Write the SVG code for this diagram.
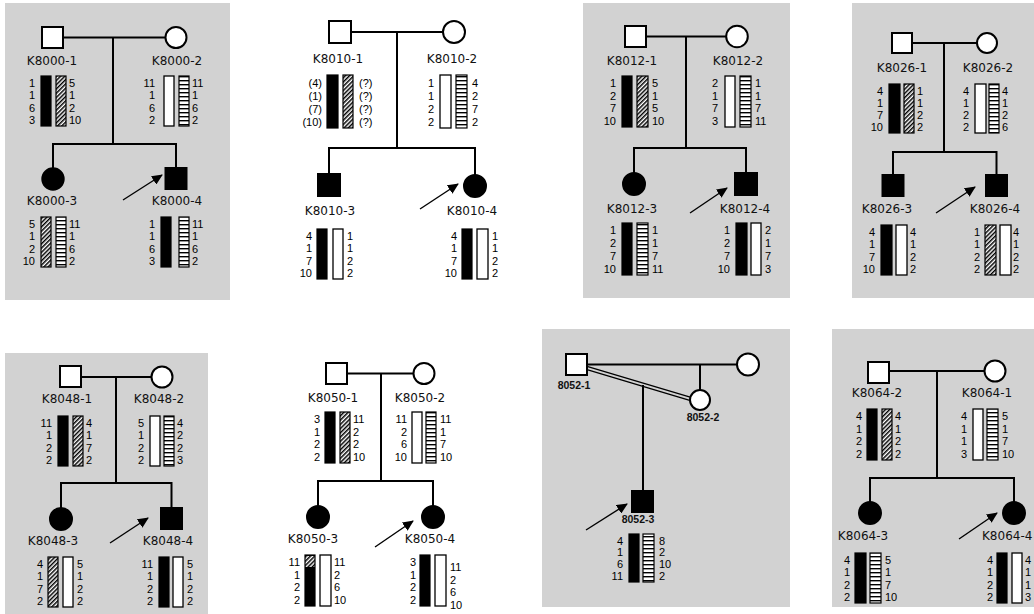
<svg xmlns="http://www.w3.org/2000/svg" width="1034" height="614" viewBox="0 0 1034 614">
<style>
.bg{fill:#d2d2d2}
.sym{stroke:#000;stroke-width:2}
.un{fill:#fff}
.af{fill:#000}
.ln{fill:none;stroke:#000;stroke-width:2}
.ar{fill:none;stroke:#000;stroke-width:1.4;marker-end:url(#ah)}
.lb{font-family:"DejaVu Sans",sans-serif;font-size:12px;fill:#111;text-anchor:middle}
.lbs{font-family:"Liberation Sans",sans-serif;font-size:10.5px;font-weight:bold;fill:#111;text-anchor:middle}
.nl{font-family:"Liberation Sans",sans-serif;font-size:11px;fill:#000;text-anchor:end}
.nr{font-family:"Liberation Sans",sans-serif;font-size:11px;fill:#000;text-anchor:start}
.bk{fill:#000;stroke:#000;stroke-width:1.2}
.wh{fill:#fff;stroke:#000;stroke-width:1.3}
.ht{fill:url(#hatch);stroke:#000;stroke-width:1.2}
.st{fill:url(#stripe);stroke:#000;stroke-width:1.2}
</style>
<defs>
<pattern id="hatch" patternUnits="userSpaceOnUse" width="3" height="3" patternTransform="rotate(45)"><rect width="3" height="3" fill="#fff"/><rect width="1.5" height="3" fill="#000"/></pattern>
<pattern id="stripe" patternUnits="userSpaceOnUse" width="4" height="4"><rect width="4" height="4" fill="#fff"/><rect width="4" height="1.4" fill="#000"/></pattern>
<marker id="ah" markerUnits="userSpaceOnUse" markerWidth="12" markerHeight="10" refX="10" refY="5" orient="auto"><path d="M0,0 L11,5 L0,10 Z" fill="#000"/></marker>
</defs>

<g id="panels">
<rect class="bg" x="5" y="3" width="225" height="297"/>
<rect class="bg" x="583" y="3" width="207" height="295"/>
<rect class="bg" x="852" y="3" width="182" height="295"/>
<rect class="bg" x="5" y="353" width="203" height="261"/>
<rect class="bg" x="542" y="329" width="248" height="278"/>
<rect class="bg" x="832" y="329" width="202" height="278"/>
</g>

<g id="connectors">
<path class="ln" d="M63 37.5 H165.5 M113 37.5 V144 M53 168 V144 H176 V168"/>
<path class="ar" d="M123 200 L162 175"/>
<path class="ln" d="M351 32 H443 M397 32 V148 M329 174 V148 H475 V175"/>
<path class="ar" d="M420 209 L458 184"/>
<path class="ln" d="M646 36.5 H726 M686 36.5 V148 M634 173 V148 H746 V173"/>
<path class="ar" d="M690 213 L727 188"/>
<path class="ln" d="M912 43 H977 M944 43 V152 M893 175 V152 H996.5 V175"/>
<path class="ar" d="M936 213 L975 187"/>
<path class="ln" d="M81 377 H151.5 M116 377 V483 M61 508 V483 H171.5 V508"/>
<path class="ar" d="M110 543 L148 518"/>
<path class="ln" d="M347 373.5 H413.5 M381 373.5 V481 M318 506 V481 H433 V506"/>
<path class="ar" d="M375 547 L413 521"/>
<path class="ln" d="M587 364.5 H737 M700 364.5 V390 M643 385 V491"/>
<path fill="none" stroke="#000" stroke-width="1.3" d="M587 366.3 L691 397.3 M587 369.7 L690.5 400.7"/>
<path class="ar" d="M586 530 L627 504"/>
<path class="ln" d="M889 371 H984.5 M937 371 V478 M870 502 V478 H1014 V502"/>
<path class="ar" d="M959 539 L997 513"/>
</g>

<!-- Panel 1 -->
<g id="K8000-1">
<rect class="sym un" x="42" y="27" width="21" height="21"/>
<text class="lb" x="52" y="65">K8000-1</text>
<rect class="bk" x="41" y="76" width="10" height="50"/><rect class="ht" x="56" y="76" width="10" height="50"/>
<text class="nl"><tspan x="35" y="87">1</tspan><tspan x="35" y="99.3">1</tspan><tspan x="35" y="111.5">6</tspan><tspan x="35" y="123.8">3</tspan></text>
<text class="nr"><tspan x="69" y="87">5</tspan><tspan x="69" y="99.3">1</tspan><tspan x="69" y="111.5">2</tspan><tspan x="69" y="123.8">10</tspan></text>
</g>
<g id="K8000-2">
<circle class="sym un" cx="176" cy="37.5" r="10.5"/>
<text class="lb" x="177" y="65">K8000-2</text>
<rect class="wh" x="164" y="76" width="10" height="50"/><rect class="st" x="179" y="76" width="10" height="50"/>
<text class="nl"><tspan x="155" y="87">11</tspan><tspan x="155" y="99.3">1</tspan><tspan x="155" y="111.5">6</tspan><tspan x="155" y="123.8">2</tspan></text>
<text class="nr"><tspan x="192" y="87">11</tspan><tspan x="192" y="99.3">1</tspan><tspan x="192" y="111.5">6</tspan><tspan x="192" y="123.8">2</tspan></text>
</g>
<g id="K8000-3">
<circle class="sym af" cx="53" cy="179" r="10.7"/>
<text class="lb" x="52" y="205">K8000-3</text>
<rect class="ht" x="41" y="217" width="10" height="50"/><rect class="st" x="56" y="217" width="10" height="50"/>
<text class="nl"><tspan x="35" y="228">5</tspan><tspan x="35" y="240.3">1</tspan><tspan x="35" y="252.5">2</tspan><tspan x="35" y="264.8">10</tspan></text>
<text class="nr"><tspan x="69" y="228">11</tspan><tspan x="69" y="240.3">1</tspan><tspan x="69" y="252.5">6</tspan><tspan x="69" y="264.8">2</tspan></text>
</g>
<g id="K8000-4">
<rect class="sym af" x="165.5" y="168" width="21" height="21"/>
<text class="lb" x="177" y="205">K8000-4</text>
<rect class="bk" x="161" y="217" width="10" height="50"/><rect class="st" x="179" y="217" width="10" height="50"/>
<text class="nl"><tspan x="155" y="228">1</tspan><tspan x="155" y="240.3">1</tspan><tspan x="155" y="252.5">6</tspan><tspan x="155" y="264.8">3</tspan></text>
<text class="nr"><tspan x="192" y="228">11</tspan><tspan x="192" y="240.3">1</tspan><tspan x="192" y="252.5">6</tspan><tspan x="192" y="264.8">2</tspan></text>
</g>

<!-- Panel 2 -->
<g id="K8010-1">
<rect class="sym un" x="329" y="21" width="22" height="22"/>
<text class="lb" x="338" y="63">K8010-1</text>
<rect class="bk" x="327" y="75" width="11" height="53"/><rect class="ht" x="343" y="75" width="10" height="53"/>
<text class="nl"><tspan x="322" y="86.7">(4)</tspan><tspan x="322" y="99.7">(1)</tspan><tspan x="322" y="112.7">(7)</tspan><tspan x="322" y="125.7">(10)</tspan></text>
<text class="nr"><tspan x="359" y="86.7">(?)</tspan><tspan x="359" y="99.7">(?)</tspan><tspan x="359" y="112.7">(?)</tspan><tspan x="359" y="125.7">(?)</tspan></text>
</g>
<g id="K8010-2">
<circle class="sym un" cx="454" cy="32" r="11"/>
<text class="lb" x="452" y="63">K8010-2</text>
<rect class="wh" x="440" y="75" width="11" height="53"/><rect class="st" x="456" y="75" width="11" height="53"/>
<text class="nl"><tspan x="434" y="86.7">1</tspan><tspan x="434" y="99.7">1</tspan><tspan x="434" y="112.7">2</tspan><tspan x="434" y="125.7">2</tspan></text>
<text class="nr"><tspan x="472" y="86.7">4</tspan><tspan x="472" y="99.7">2</tspan><tspan x="472" y="112.7">7</tspan><tspan x="472" y="125.7">2</tspan></text>
</g>
<g id="K8010-3">
<rect class="sym af" x="318" y="174" width="22" height="22"/>
<text class="lb" x="330" y="215">K8010-3</text>
<rect class="bk" x="317" y="229" width="10" height="50"/><rect class="wh" x="333" y="229" width="10" height="50"/>
<text class="nl"><tspan x="312" y="240">4</tspan><tspan x="312" y="252.3">1</tspan><tspan x="312" y="264.5">7</tspan><tspan x="312" y="276.8">10</tspan></text>
<text class="nr"><tspan x="347" y="240">1</tspan><tspan x="347" y="252.3">1</tspan><tspan x="347" y="264.5">2</tspan><tspan x="347" y="276.8">2</tspan></text>
</g>
<g id="K8010-4">
<circle class="sym af" cx="475" cy="186" r="11"/>
<text class="lb" x="472" y="215">K8010-4</text>
<rect class="bk" x="462" y="229" width="10" height="50"/><rect class="wh" x="477" y="229" width="11" height="50"/>
<text class="nl"><tspan x="457" y="240">4</tspan><tspan x="457" y="252.3">1</tspan><tspan x="457" y="264.5">7</tspan><tspan x="457" y="276.8">10</tspan></text>
<text class="nr"><tspan x="492" y="240">1</tspan><tspan x="492" y="252.3">1</tspan><tspan x="492" y="264.5">2</tspan><tspan x="492" y="276.8">2</tspan></text>
</g>

<!-- Panel 3 -->
<g id="K8012-1">
<rect class="sym un" x="625" y="26" width="21" height="21"/>
<text class="lb" x="632" y="65">K8012-1</text>
<rect class="bk" x="622" y="76" width="10" height="51"/><rect class="ht" x="637" y="76" width="11" height="51"/>
<text class="nl"><tspan x="616" y="87.2">1</tspan><tspan x="616" y="99.7">2</tspan><tspan x="616" y="112.2">7</tspan><tspan x="616" y="124.7">10</tspan></text>
<text class="nr"><tspan x="652" y="87.2">5</tspan><tspan x="652" y="99.7">1</tspan><tspan x="652" y="112.2">5</tspan><tspan x="652" y="124.7">10</tspan></text>
</g>
<g id="K8012-2">
<circle class="sym un" cx="737" cy="36.5" r="10.8"/>
<text class="lb" x="738" y="65">K8012-2</text>
<rect class="wh" x="725" y="76" width="10" height="51"/><rect class="st" x="740" y="76" width="11" height="51"/>
<text class="nl"><tspan x="718" y="87.2">2</tspan><tspan x="718" y="99.7">1</tspan><tspan x="718" y="112.2">7</tspan><tspan x="718" y="124.7">3</tspan></text>
<text class="nr"><tspan x="755" y="87.2">1</tspan><tspan x="755" y="99.7">1</tspan><tspan x="755" y="112.2">7</tspan><tspan x="755" y="124.7">11</tspan></text>
</g>
<g id="K8012-3">
<circle class="sym af" cx="634" cy="184" r="11"/>
<text class="lb" x="632" y="213">K8012-3</text>
<rect class="bk" x="622" y="223" width="10" height="52"/><rect class="st" x="637" y="223" width="11" height="52"/>
<text class="nl"><tspan x="616" y="234.4">1</tspan><tspan x="616" y="247.2">2</tspan><tspan x="616" y="259.9">7</tspan><tspan x="616" y="272.7">10</tspan></text>
<text class="nr"><tspan x="652" y="234.4">1</tspan><tspan x="652" y="247.2">1</tspan><tspan x="652" y="259.9">7</tspan><tspan x="652" y="272.7">11</tspan></text>
</g>
<g id="K8012-4">
<rect class="sym af" x="735" y="173" width="22" height="22"/>
<text class="lb" x="745" y="213">K8012-4</text>
<rect class="bk" x="736" y="223" width="11" height="52"/><rect class="wh" x="751" y="223" width="10" height="52"/>
<text class="nl"><tspan x="730" y="234.4">1</tspan><tspan x="730" y="247.2">2</tspan><tspan x="730" y="259.9">7</tspan><tspan x="730" y="272.7">10</tspan></text>
<text class="nr"><tspan x="765" y="234.4">2</tspan><tspan x="765" y="247.2">1</tspan><tspan x="765" y="259.9">7</tspan><tspan x="765" y="272.7">3</tspan></text>
</g>

<!-- Panel 4 -->
<g id="K8026-1">
<rect class="sym un" x="892" y="33" width="20" height="20"/>
<text class="lb" x="902" y="72">K8026-1</text>
<rect class="bk" x="889" y="84" width="11" height="49"/><rect class="ht" x="904" y="84" width="10" height="49"/>
<text class="nl"><tspan x="883" y="94.8">4</tspan><tspan x="883" y="106.8">1</tspan><tspan x="883" y="118.8">7</tspan><tspan x="883" y="130.8">10</tspan></text>
<text class="nr"><tspan x="917" y="94.8">1</tspan><tspan x="917" y="106.8">1</tspan><tspan x="917" y="118.8">2</tspan><tspan x="917" y="130.8">2</tspan></text>
</g>
<g id="K8026-2">
<circle class="sym un" cx="987" cy="43" r="10"/>
<text class="lb" x="988" y="72">K8026-2</text>
<rect class="wh" x="975" y="84" width="11" height="49"/><rect class="st" x="989" y="84" width="10" height="49"/>
<text class="nl"><tspan x="969" y="94.8">4</tspan><tspan x="969" y="106.8">1</tspan><tspan x="969" y="118.8">2</tspan><tspan x="969" y="130.8">2</tspan></text>
<text class="nr"><tspan x="1002" y="94.8">4</tspan><tspan x="1002" y="106.8">1</tspan><tspan x="1002" y="118.8">2</tspan><tspan x="1002" y="130.8">6</tspan></text>
</g>
<g id="K8026-3">
<rect class="sym af" x="882.5" y="175" width="21" height="21"/>
<text class="lb" x="887" y="213">K8026-3</text>
<rect class="bk" x="881" y="225" width="11" height="50"/><rect class="wh" x="896" y="225" width="11" height="50"/>
<text class="nl"><tspan x="875" y="236">4</tspan><tspan x="875" y="248.3">1</tspan><tspan x="875" y="260.5">7</tspan><tspan x="875" y="272.8">10</tspan></text>
<text class="nr"><tspan x="910" y="236">4</tspan><tspan x="910" y="248.3">1</tspan><tspan x="910" y="260.5">2</tspan><tspan x="910" y="272.8">2</tspan></text>
</g>
<g id="K8026-4">
<rect class="sym af" x="986" y="175" width="21" height="21"/>
<text class="lb" x="995" y="213">K8026-4</text>
<rect class="ht" x="985" y="225" width="11" height="50"/><rect class="wh" x="1000" y="225" width="11" height="50"/>
<text class="nl"><tspan x="980" y="236">1</tspan><tspan x="980" y="248.3">1</tspan><tspan x="980" y="260.5">2</tspan><tspan x="980" y="272.8">2</tspan></text>
<text class="nr"><tspan x="1013" y="236">4</tspan><tspan x="1013" y="248.3">1</tspan><tspan x="1013" y="260.5">2</tspan><tspan x="1013" y="272.8">2</tspan></text>
</g>

<!-- Panel 5 -->
<g id="K8048-1">
<rect class="sym un" x="60" y="366" width="21" height="21"/>
<text class="lb" x="67" y="403">K8048-1</text>
<rect class="bk" x="58" y="416" width="10" height="50"/><rect class="ht" x="73" y="416" width="10" height="50"/>
<text class="nl"><tspan x="52" y="427">11</tspan><tspan x="52" y="439.3">1</tspan><tspan x="52" y="451.5">2</tspan><tspan x="52" y="463.8">2</tspan></text>
<text class="nr"><tspan x="86" y="427">4</tspan><tspan x="86" y="439.3">1</tspan><tspan x="86" y="451.5">7</tspan><tspan x="86" y="463.8">2</tspan></text>
</g>
<g id="K8048-2">
<circle class="sym un" cx="162" cy="377" r="10.5"/>
<text class="lb" x="159" y="403">K8048-2</text>
<rect class="wh" x="150" y="416" width="10" height="50"/><rect class="st" x="164" y="416" width="10" height="50"/>
<text class="nl"><tspan x="144" y="427">5</tspan><tspan x="144" y="439.3">1</tspan><tspan x="144" y="451.5">2</tspan><tspan x="144" y="463.8">2</tspan></text>
<text class="nr"><tspan x="177" y="427">4</tspan><tspan x="177" y="439.3">2</tspan><tspan x="177" y="451.5">2</tspan><tspan x="177" y="463.8">3</tspan></text>
</g>
<g id="K8048-3">
<circle class="sym af" cx="61" cy="519" r="11"/>
<text class="lb" x="53" y="545">K8048-3</text>
<rect class="ht" x="48" y="557" width="10" height="50"/><rect class="wh" x="63" y="557" width="10" height="50"/>
<text class="nl"><tspan x="43" y="568">4</tspan><tspan x="43" y="580.3">1</tspan><tspan x="43" y="592.5">7</tspan><tspan x="43" y="604.8">2</tspan></text>
<text class="nr"><tspan x="77" y="568">5</tspan><tspan x="77" y="580.3">1</tspan><tspan x="77" y="592.5">2</tspan><tspan x="77" y="604.8">2</tspan></text>
</g>
<g id="K8048-4">
<rect class="sym af" x="161" y="508" width="21" height="21"/>
<text class="lb" x="168" y="545">K8048-4</text>
<rect class="bk" x="159" y="557" width="10" height="50"/><rect class="wh" x="173" y="557" width="10" height="50"/>
<text class="nl"><tspan x="153" y="568">11</tspan><tspan x="153" y="580.3">1</tspan><tspan x="153" y="592.5">2</tspan><tspan x="153" y="604.8">2</tspan></text>
<text class="nr"><tspan x="187" y="568">5</tspan><tspan x="187" y="580.3">1</tspan><tspan x="187" y="592.5">2</tspan><tspan x="187" y="604.8">2</tspan></text>
</g>

<!-- Panel 6 -->
<g id="K8050-1">
<rect class="sym un" x="326" y="363" width="21" height="21"/>
<text class="lb" x="333" y="402">K8050-1</text>
<rect class="bk" x="325" y="412" width="10" height="51"/><rect class="ht" x="340" y="412" width="10" height="51"/>
<text class="nl"><tspan x="320" y="423.2">3</tspan><tspan x="320" y="435.7">1</tspan><tspan x="320" y="448.2">2</tspan><tspan x="320" y="460.7">2</tspan></text>
<text class="nr"><tspan x="353" y="423.2">11</tspan><tspan x="353" y="435.7">2</tspan><tspan x="353" y="448.2">2</tspan><tspan x="353" y="460.7">10</tspan></text>
</g>
<g id="K8050-2">
<circle class="sym un" cx="424" cy="373.5" r="10.5"/>
<text class="lb" x="420" y="402">K8050-2</text>
<rect class="wh" x="412" y="412" width="10" height="51"/><rect class="st" x="426" y="412" width="10" height="51"/>
<text class="nl"><tspan x="407" y="423.2">11</tspan><tspan x="407" y="435.7">2</tspan><tspan x="407" y="448.2">6</tspan><tspan x="407" y="460.7">10</tspan></text>
<text class="nr"><tspan x="440" y="423.2">11</tspan><tspan x="440" y="435.7">1</tspan><tspan x="440" y="448.2">7</tspan><tspan x="440" y="460.7">10</tspan></text>
</g>
<g id="K8050-3">
<circle class="sym af" cx="318" cy="517" r="11"/>
<text class="lb" x="313" y="543">K8050-3</text>
<rect class="bk" x="305" y="555" width="10" height="51"/><rect fill="url(#hatch)" x="305.6" y="556" width="8.8" height="11"/><rect class="wh" x="320" y="555" width="11" height="51"/>
<text class="nl"><tspan x="300" y="566.2">11</tspan><tspan x="300" y="578.7">1</tspan><tspan x="300" y="591.2">2</tspan><tspan x="300" y="603.7">2</tspan></text>
<text class="nr"><tspan x="334" y="566.2">11</tspan><tspan x="334" y="578.7">2</tspan><tspan x="334" y="591.2">6</tspan><tspan x="334" y="603.7">10</tspan></text>
</g>
<g id="K8050-4">
<circle class="sym af" cx="433" cy="517" r="11"/>
<text class="lb" x="430" y="543">K8050-4</text>
<rect class="bk" x="420" y="555" width="10" height="51"/><rect class="wh" x="435" y="555" width="11" height="51"/>
<text class="nl"><tspan x="416" y="566.2">3</tspan><tspan x="416" y="578.7">1</tspan><tspan x="416" y="591.2">2</tspan><tspan x="416" y="603.7">2</tspan></text>
<text class="nr"><tspan x="450" y="571">11</tspan><tspan x="450" y="583.5">2</tspan><tspan x="450" y="596">6</tspan><tspan x="450" y="608.5">10</tspan></text>
</g>

<!-- Panel 7 -->
<g id="n8052-1">
<rect class="sym un" x="566" y="354" width="21" height="21"/>
<text class="lbs" x="574" y="389">8052-1</text>
</g>
<g id="n8052-spouse">
<circle class="sym un" cx="748" cy="364.5" r="11"/>
</g>
<g id="n8052-2">
<circle class="sym un" cx="700" cy="400" r="10"/>
<text class="lbs" x="703" y="421">8052-2</text>
</g>
<g id="n8052-3">
<rect class="sym af" x="632" y="491" width="21" height="21"/>
<text class="lbs" x="638" y="523">8052-3</text>
<rect class="bk" x="629" y="534" width="10" height="48"/><rect class="st" x="643" y="534" width="11" height="48"/>
<text class="nl"><tspan x="623" y="544.6">4</tspan><tspan x="623" y="556.4">1</tspan><tspan x="623" y="568.2">6</tspan><tspan x="623" y="580">11</tspan></text>
<text class="nr"><tspan x="659" y="544.6">8</tspan><tspan x="659" y="556.4">2</tspan><tspan x="659" y="568.2">10</tspan><tspan x="659" y="580">2</tspan></text>
</g>

<!-- Panel 8 -->
<g id="K8064-2">
<rect class="sym un" x="868" y="362" width="21" height="21"/>
<text class="lb" x="877" y="397">K8064-2</text>
<rect class="bk" x="867" y="409" width="10" height="51"/><rect class="ht" x="882" y="409" width="10" height="51"/>
<text class="nl"><tspan x="862" y="420.2">4</tspan><tspan x="862" y="432.7">1</tspan><tspan x="862" y="445.2">2</tspan><tspan x="862" y="457.7">2</tspan></text>
<text class="nr"><tspan x="895" y="420.2">4</tspan><tspan x="895" y="432.7">1</tspan><tspan x="895" y="445.2">2</tspan><tspan x="895" y="457.7">2</tspan></text>
</g>
<g id="K8064-1">
<circle class="sym un" cx="995" cy="371" r="10.5"/>
<text class="lb" x="987" y="397">K8064-1</text>
<rect class="wh" x="973" y="409" width="10" height="51"/><rect class="st" x="987" y="409" width="11" height="51"/>
<text class="nl"><tspan x="967" y="420.2">4</tspan><tspan x="967" y="432.7">1</tspan><tspan x="967" y="445.2">1</tspan><tspan x="967" y="457.7">3</tspan></text>
<text class="nr"><tspan x="1002" y="420.2">5</tspan><tspan x="1002" y="432.7">1</tspan><tspan x="1002" y="445.2">7</tspan><tspan x="1002" y="457.7">10</tspan></text>
</g>
<g id="K8064-3">
<circle class="sym af" cx="870" cy="513" r="11"/>
<text class="lb" x="863" y="540">K8064-3</text>
<rect class="bk" x="855" y="553" width="11" height="50"/><rect class="st" x="870" y="553" width="11" height="50"/>
<text class="nl"><tspan x="850" y="564">4</tspan><tspan x="850" y="576.3">1</tspan><tspan x="850" y="588.5">2</tspan><tspan x="850" y="600.8">2</tspan></text>
<text class="nr"><tspan x="885" y="564">5</tspan><tspan x="885" y="576.3">1</tspan><tspan x="885" y="588.5">7</tspan><tspan x="885" y="600.8">10</tspan></text>
</g>
<g id="K8064-4">
<circle class="sym af" cx="1014" cy="513" r="11"/>
<text class="lb" x="982" y="540" style="text-anchor:start">K8064-4</text>
<rect class="bk" x="997" y="553" width="10" height="50"/><rect class="wh" x="1012" y="553" width="10" height="50"/>
<text class="nl"><tspan x="993" y="564">4</tspan><tspan x="993" y="576.3">1</tspan><tspan x="993" y="588.5">2</tspan><tspan x="993" y="600.8">2</tspan></text>
<text class="nr"><tspan x="1025" y="564">4</tspan><tspan x="1025" y="576.3">1</tspan><tspan x="1025" y="588.5">1</tspan><tspan x="1025" y="600.8">3</tspan></text>
</g>
</svg>
